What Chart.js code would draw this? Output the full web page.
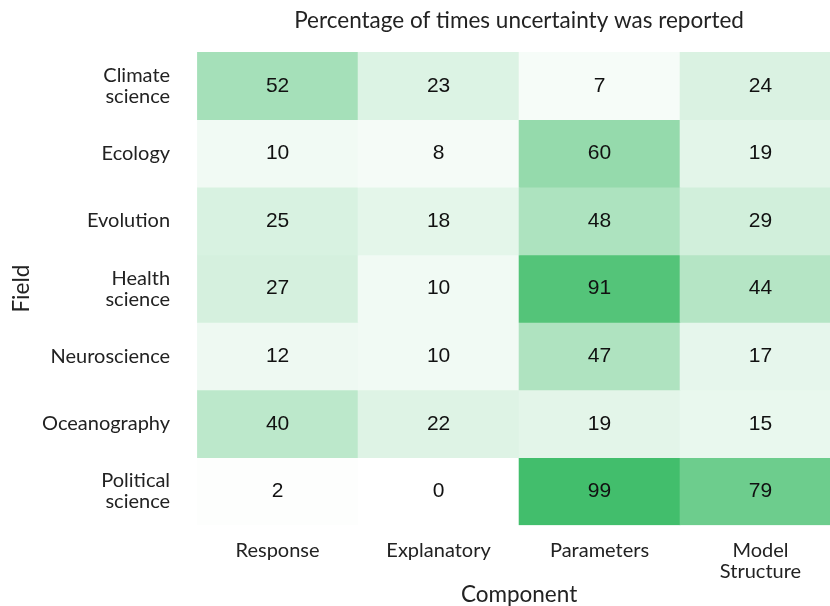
<!DOCTYPE html>
<html>
<head>
<meta charset="utf-8">
<script src="https://cdn.jsdelivr.net/npm/chart.js@4"></script>
<style>
  body { margin: 0; overflow: hidden; background: #fff; }
  #wrap { width: 845px; height: 606px; }
</style>
</head>
<body>
<div id="wrap"><canvas id="heat"></canvas></div>
<script>
// data
var components = ['Response', 'Explanatory', 'Parameters', ['Model', 'Structure']];
var fields = [['Climate', 'science'], 'Ecology', 'Evolution', ['Health', 'science'],
              'Neuroscience', 'Oceanography', ['Political', 'science']];
var response    = [52, 10, 25, 27, 12, 40, 2];
var explanatory = [23, 8, 18, 10, 10, 22, 0];
var parameters  = [7, 60, 48, 91, 47, 19, 99];
var structure   = [24, 19, 29, 44, 17, 15, 79];

var labelFont = 'Lato, "Open Sans", sans-serif';

function cellColor(v) {
    // white -> green, slightly eased
    var t = Math.pow(v / 100, 1.15);
    var r = Math.round(255 - t * (255 - 64));
    var g = Math.round(255 - t * (255 - 189));
    var b = Math.round(255 - t * (255 - 106));
    return 'rgb(' + r + ',' + g + ',' + b + ')';
}

var columns = [response, explanatory, parameters, structure];
var datasets = fields.map(function (f, row) {
    var vals = columns.map(function (col) { return col[row]; });
    return {
        label: Array.isArray(f) ? f.join(' ') : f,
        values: vals,
        data: vals.map(function () { return [row, row + 1]; }),
        backgroundColor: vals.map(cellColor),
        borderWidth: 0,
        barPercentage: 1,
        categoryPercentage: 1,
        grouped: false
    };
});

var cellText = {
    id: 'cellText',
    afterDatasetsDraw: function (chart) {
        var ctx = chart.ctx;
        ctx.save();
        ctx.fillStyle = '#111';
        ctx.font = '21px "Liberation Sans", Arial, sans-serif';
        ctx.textAlign = 'center';
        ctx.textBaseline = 'middle';
        chart.data.datasets.forEach(function (ds, i) {
            chart.getDatasetMeta(i).data.forEach(function (bar, j) {
                ctx.fillText(ds.values[j], bar.x, (bar.y + bar.base) / 2);
            });
        });
        ctx.restore();
    }
};

new Chart(document.getElementById('heat'), {
    type: 'bar',
    data: { labels: components, datasets: datasets },
    plugins: [cellText],
    options: {
        responsive: true,
        maintainAspectRatio: false,
        animation: false,
        layout: { padding: { left: 8, right: 4, top: 0, bottom: 0 } },
        plugins: {
            legend: { display: false },
            tooltip: { enabled: false },
            title: {
                display: true,
                fullSize: false,
                text: 'Percentage of times uncertainty was reported',
                color: '#222',
                font: { family: labelFont, size: 22.5, weight: 'normal', lineHeight: 1.2 },
                padding: { top: 7, bottom: 18 }
            }
        },
        scales: {
            x: {
                type: 'category',
                grid: { display: false, drawTicks: false },
                border: { display: false },
                ticks: {
                    color: '#222',
                    font: { family: labelFont, size: 20, lineHeight: 1.05 },
                    padding: 15,
                    maxRotation: 0
                },
                title: {
                    display: true,
                    text: 'Component',
                    color: '#222',
                    font: { family: labelFont, size: 22.5, lineHeight: 1.1 },
                    padding: { top: -14.5, bottom: -1.5 }
                }
            },
            y: {
                type: 'linear',
                min: 0,
                max: 7,
                reverse: true,
                grid: { display: false, drawTicks: false },
                border: { display: false },
                afterBuildTicks: function (scale) {
                    scale.ticks = fields.map(function (f, i) { return { value: i + 0.5 }; });
                },
                ticks: {
                    color: '#222',
                    font: { family: labelFont, size: 20, lineHeight: 1.05 },
                    padding: 27,
                    callback: function (v) { return fields[Math.floor(v)]; }
                },
                title: {
                    display: true,
                    text: 'Field',
                    color: '#222',
                    font: { family: labelFont, size: 22.5 },
                    padding: { top: 0, bottom: -20 }
                }
            }
        }
    }
});
</script>
</body>
</html>
